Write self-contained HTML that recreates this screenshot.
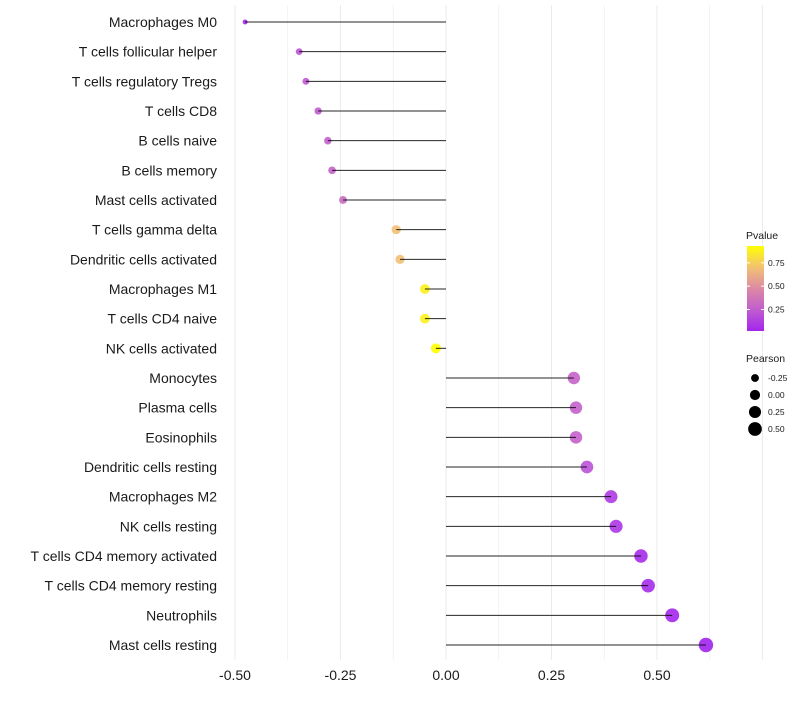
<!DOCTYPE html>
<html><head><meta charset="utf-8"><style>
body{margin:0;background:#fff;font-family:"Liberation Sans",sans-serif}
</style></head><body>
<svg id="chart" width="800" height="700" xmlns="http://www.w3.org/2000/svg"></svg>
<script>
const categories=["Macrophages M0","T cells follicular helper","T cells regulatory  Tregs ","T cells CD8","B cells naive","B cells memory","Mast cells activated","T cells gamma delta","Dendritic cells activated","Macrophages M1","T cells CD4 naive","NK cells activated","Monocytes","Plasma cells","Eosinophils","Dendritic cells resting","Macrophages M2","NK cells resting","T cells CD4 memory activated","T cells CD4 memory resting","Neutrophils","Mast cells resting"];
const pearson=[-0.476,-0.348,-0.332,-0.303,-0.28,-0.27,-0.244,-0.118,-0.109,-0.05,-0.05,-0.024,0.303,0.308,0.308,0.334,0.391,0.403,0.462,0.479,0.536,0.616];
const pvalue=[0.02,0.22,0.23,0.25,0.27,0.28,0.32,0.7,0.7,0.88,0.88,0.94,0.28,0.27,0.27,0.2,0.11,0.09,0.05,0.05,0.03,0.01];
const xTicks=[-0.5,-0.25,0,0.25,0.5];
const xTickLabels=["-0.50","-0.25","0.00","0.25","0.50"];
const sizeLegend=[-0.25,0,0.25,0.5];
const sizeLegendLabels=["-0.25","0.00","0.25","0.50"];
const colorLegendTicks=[0.25,0.5,0.75];
const colorLegendLabels=["0.25","0.50","0.75"];

const svg=document.getElementById('chart');
const NS="http://www.w3.org/2000/svg";
const x=v=>446+v*422;
const y=i=>22+i*29.667;
const r=v=>Math.sqrt(Math.max(2,26+42*v));
const stops=[[0,[160,32,240]],[0.25,[190,90,210]],[0.5,[220,135,165]],[0.75,[242,192,118]],[1,[255,255,0]]];
function col(p){p=Math.max(0,Math.min(1,p/0.93));for(let k=1;k<stops.length;k++){if(p<=stops[k][0]){const a=stops[k-1],b=stops[k],t=(p-a[0])/(b[0]-a[0]);return 'rgb('+a[1].map((c,j)=>Math.round(c+(b[1][j]-c)*t)).join(',')+')';}}return 'rgb(255,255,0)';}
function mk(t,a,parent){const e=document.createElementNS(NS,t);for(const k in a)e.setAttribute(k,a[k]);(parent||svg).appendChild(e);return e;}

for(let v=-0.5;v<=0.75;v+=0.125){
 const g=mk('line',{x1:x(v),x2:x(v),y1:5,y2:660,stroke:'#ebebeb','stroke-width':Math.abs((v*4)%1)<1e-6?1:0.6});
 
 
}
categories.forEach((c,i)=>{
 const t=mk('text',{x:217,y:y(i)+5,'text-anchor':'end','font-size':14,fill:'#1a1a1a'});
 t.textContent=c;
 
 
 const d=mk('circle',{cx:x(pearson[i]),cy:y(i),r:r(pearson[i]),fill:col(pvalue[i]),'fill-opacity':0.9});
 
 
 const l=mk('line',{x1:x(pearson[i]),x2:x(0),y1:y(i),y2:y(i),stroke:'#000','stroke-width':1,'stroke-opacity':0.85});
 
 
});
xTicks.forEach((v,i)=>{
 const t=mk('text',{x:x(v),y:680,'text-anchor':'middle','font-size':14,fill:'#1a1a1a'});
 t.textContent=xTickLabels[i];
 
 
});
const defs=mk('defs',{});
const lg=mk('linearGradient',{id:'pg',x1:0,y1:1,x2:0,y2:0},defs);
for(let k=0;k<=10;k++){mk('stop',{offset:k/10,'stop-color':col(0.02+k*0.091)},lg);}
let t=mk('text',{x:746,y:239,'font-size':10.5,fill:'#1a1a1a'});t.textContent='Pvalue';


const bar=mk('rect',{x:747,y:246,width:17,height:85,fill:'url(#pg)'});


const ly=p=>331-(p-0.02)/0.91*85;
colorLegendTicks.forEach((p,i)=>{
 mk('line',{x1:747,x2:750,y1:ly(p),y2:ly(p),stroke:'#fff'});mk('line',{x1:761,x2:764,y1:ly(p),y2:ly(p),stroke:'#fff'});
 const tt=mk('text',{x:768,y:ly(p)+3,'font-size':8.5,fill:'#1a1a1a'});tt.textContent=colorLegendLabels[i];
 
 
});
t=mk('text',{x:746,y:362,'font-size':10.5,fill:'#1a1a1a'});t.textContent='Pearson';


sizeLegend.forEach((v,i)=>{
 const cy=378+i*17;
 const c=mk('circle',{cx:755,cy:cy,r:r(v),fill:'#000'});
 
 
 const tt=mk('text',{x:768,y:cy+3,'font-size':8.5,fill:'#1a1a1a'});tt.textContent=sizeLegendLabels[i];
 
 
});
</script>
</body></html>
